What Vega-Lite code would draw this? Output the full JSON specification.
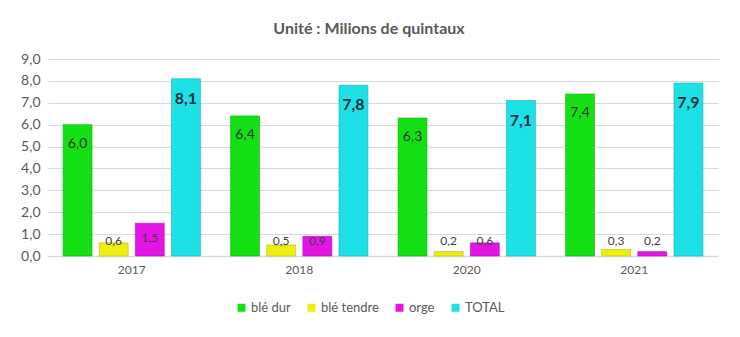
{
  "$schema": "https://vega.github.io/schema/vega-lite/v6.json",
  "width": 670,
  "height": 197,
  "autosize": {"type": "none"},
  "padding": {"left": 48, "top": 59, "right": 22, "bottom": 81},
  "background": "white",
  "config": {
    "locale": {"number": {"decimal": ",", "thousands": " ", "grouping": [3], "currency": ["", " €"]}},
    "font": "Lato",
    "view": {"stroke": null}
  },
  "title": {
    "text": "Unité : Milions de quintaux",
    "fontSize": 16,
    "fontWeight": "bold",
    "color": "#595959",
    "anchor": "middle",
    "dx": -14,
    "offset": 15,
    "font": "Lato"
  },
  "data": {
    "values": [
      {"annee": "2017", "serie": "blé dur", "valeur": 6.0},
      {"annee": "2017", "serie": "blé tendre", "valeur": 0.6},
      {"annee": "2017", "serie": "orge", "valeur": 1.5},
      {"annee": "2017", "serie": "TOTAL", "valeur": 8.1},
      {"annee": "2018", "serie": "blé dur", "valeur": 6.4},
      {"annee": "2018", "serie": "blé tendre", "valeur": 0.5},
      {"annee": "2018", "serie": "orge", "valeur": 0.9},
      {"annee": "2018", "serie": "TOTAL", "valeur": 7.8},
      {"annee": "2020", "serie": "blé dur", "valeur": 6.3},
      {"annee": "2020", "serie": "blé tendre", "valeur": 0.2},
      {"annee": "2020", "serie": "orge", "valeur": 0.6},
      {"annee": "2020", "serie": "TOTAL", "valeur": 7.1},
      {"annee": "2021", "serie": "blé dur", "valeur": 7.4},
      {"annee": "2021", "serie": "blé tendre", "valeur": 0.3},
      {"annee": "2021", "serie": "orge", "valeur": 0.2},
      {"annee": "2021", "serie": "TOTAL", "valeur": 7.9}
    ]
  },
  "encoding": {
    "x": {
      "field": "annee",
      "type": "nominal",
      "scale": {"paddingInner": 0.18, "paddingOuter": 0.09},
      "axis": {
        "title": null,
        "labelAngle": 0,
        "labelFontSize": 12,
        "labelColor": "#595959",
        "labelPadding": 8,
        "ticks": false,
        "domainColor": "#d9d9d9",
        "domainWidth": 1.5
      }
    },
    "xOffset": {
      "field": "serie",
      "type": "nominal",
      "sort": ["blé dur", "blé tendre", "orge", "TOTAL"],
      "scale": {"paddingInner": 0.2}
    }
  },
  "layer": [
    {
      "mark": {"type": "bar", "strokeWidth": 0.6},
      "encoding": {
        "y": {
          "field": "valeur",
          "type": "quantitative",
          "scale": {"domain": [0, 9], "nice": false},
          "axis": {"title": null, "format": ".1f", "values": [0, 1, 2, 3, 4, 5, 6, 7, 8, 9], "labelOverlap": false, "labelFontSize": 14, "labelColor": "#595959", "labelPadding": 8, "ticks": false, "domain": false, "gridColor": "#d9d9d9"}
        },
        "color": {
          "field": "serie",
          "type": "nominal",
          "sort": ["blé dur", "blé tendre", "orge", "TOTAL"],
          "scale": {
            "domain": ["blé dur", "blé tendre", "orge", "TOTAL"],
            "range": ["#14e014", "#eeee10", "#e414e4", "#1ce2e8"]
          },
          "legend": {
            "title": null,
            "orient": "none",
            "direction": "horizontal",
            "legendX": 187,
            "legendY": 242,
            "symbolType": "square",
            "symbolSize": 64,
            "symbolStrokeWidth": 0,
            "labelFontSize": 13,
            "labelColor": "#595959",
            "labelOffset": 3,
            "columnPadding": 14
          }
        },
        "stroke": {
          "field": "serie",
          "type": "nominal",
          "scale": {
            "domain": ["blé dur", "blé tendre", "orge", "TOTAL"],
            "range": ["#0fae0f", "#b8b80c", "#b00fb0", "#16b0b4"]
          },
          "legend": null
        }
      }
    },
    {
      "transform": [{"filter": "datum.serie === 'blé dur'"}],
      "mark": {"type": "text", "baseline": "middle", "dy": 19, "fontSize": 14, "color": "#333333"},
      "encoding": {
        "y": {"field": "valeur", "type": "quantitative",
          "axis": {"title": null, "format": ".1f", "values": [0, 1, 2, 3, 4, 5, 6, 7, 8, 9], "labelOverlap": false, "labelFontSize": 14, "labelColor": "#595959", "labelPadding": 8, "ticks": false, "domain": false, "gridColor": "#d9d9d9"}},
        "text": {"field": "valeur", "type": "quantitative", "format": ".1f"}
      }
    },
    {
      "transform": [
        {"filter": "datum.serie === 'blé tendre' || datum.serie === 'orge'"},
        {"calculate": "max(datum.valeur, 1.37)", "as": "pos"}
      ],
      "mark": {"type": "text", "baseline": "middle", "dy": 15, "fontSize": 12, "color": "#404040"},
      "encoding": {
        "y": {"field": "pos", "type": "quantitative",
          "axis": {"title": null, "format": ".1f", "values": [0, 1, 2, 3, 4, 5, 6, 7, 8, 9], "labelOverlap": false, "labelFontSize": 14, "labelColor": "#595959", "labelPadding": 8, "ticks": false, "domain": false, "gridColor": "#d9d9d9"}},
        "text": {"field": "valeur", "type": "quantitative", "format": ".1f"}
      }
    },
    {
      "transform": [{"filter": "datum.serie === 'TOTAL'"}],
      "mark": {"type": "text", "baseline": "middle", "dy": 20, "fontSize": 16, "fontWeight": "bold", "color": "#1f2f3a"},
      "encoding": {
        "y": {"field": "valeur", "type": "quantitative",
          "axis": {"title": null, "format": ".1f", "values": [0, 1, 2, 3, 4, 5, 6, 7, 8, 9], "labelOverlap": false, "labelFontSize": 14, "labelColor": "#595959", "labelPadding": 8, "ticks": false, "domain": false, "gridColor": "#d9d9d9"}},
        "text": {"field": "valeur", "type": "quantitative", "format": ".1f"}
      }
    }
  ]
}
